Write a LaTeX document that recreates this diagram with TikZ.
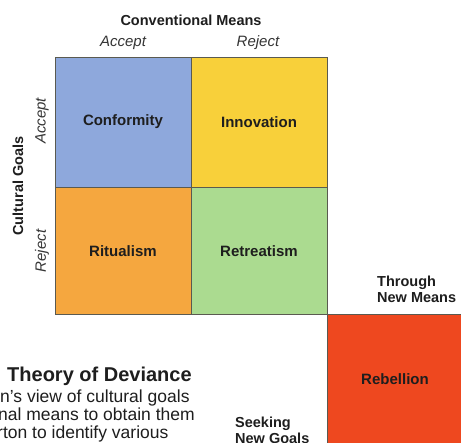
\documentclass[tikz,border=0pt]{standalone}
\usepackage{fontspec}
\setmainfont{Liberation Sans}
\definecolor{cblue}{HTML}{8EA8DC}
\definecolor{cyellow}{HTML}{F8D03A}
\definecolor{corange}{HTML}{F5A73F}
\definecolor{cgreen}{HTML}{ABDB90}
\definecolor{cred}{HTML}{EE481F}
\definecolor{cedge}{HTML}{5A5A50}
\definecolor{ctext}{HTML}{1E1E1E}
\begin{document}
\begin{tikzpicture}[x=1pt,y=-1pt,
  cell/.style={draw=cedge,line width=0.9pt},
  celltext/.style={font=\fontsize{15}{18}\selectfont\bfseries,text=ctext},
  head/.style={font=\fontsize{14.5}{17}\selectfont\bfseries,text=ctext},
  sub/.style={font=\fontsize{15}{18}\selectfont\itshape,text=ctext!90},
  body/.style={font=\fontsize{17.5}{20}\selectfont,text=ctext,anchor=base west,inner sep=0pt}]
\useasboundingbox (0,0) rectangle (461,443);
\clip (0,0) rectangle (461,443);
\fill[white] (0,0) rectangle (461,443);
% cells
\filldraw[cell,fill=cblue]   (55,57) rectangle (191,187);
\filldraw[cell,fill=cyellow] (191,57) rectangle (327,187);
\filldraw[cell,fill=corange] (55,187) rectangle (191,314);
\filldraw[cell,fill=cgreen]  (191,187) rectangle (327,314);
\filldraw[cell,fill=cred]    (327,314) rectangle (463,445);
\node[celltext] (conf) at (123,122) {Conformity};
\node[celltext] (inno) at (259,122) {Innovation};
\node[celltext] (ritu) at (123,251) {Ritualism};
\node[celltext] (retr) at (259,251) {Retreatism};
\node[celltext] (rebe) at (395,379) {Rebellion};
% headers
\node[head] (cm) at (191,20) {Conventional Means};
\node[sub] (acc1) at (123,43) {Accept};
\node[sub] (rej1) at (258,43) {Reject};
\node[head,rotate=90] (cg) at (18,186) {Cultural Goals};
\node[sub,rotate=90] (acc2) at (42,121) {Accept};
\node[sub,rotate=90] (rej2) at (42,251) {Reject};
% side labels
\node[head,anchor=north west,align=left,inner sep=0pt,font=\fontsize{14.5}{15.5}\selectfont\bfseries] (tnm) at (377,276) {Through\\New Means};
\node[head,anchor=north west,align=left,inner sep=0pt,font=\fontsize{14.5}{15.5}\selectfont\bfseries] (sng) at (235,417) {Seeking\\New Goals};
% caption text
\node[body,font=\fontsize{20}{22}\selectfont\bfseries] (t1) at (7,382) {Theory of Deviance};
\node[body] (t2) at (0,403) {n’s view of cultural goals};
\node[body] (t3) at (-2,421) {nal means to obtain them};
\node[body] (t4) at (-3,439) {rton to identify various};
\end{tikzpicture}
\end{document}
